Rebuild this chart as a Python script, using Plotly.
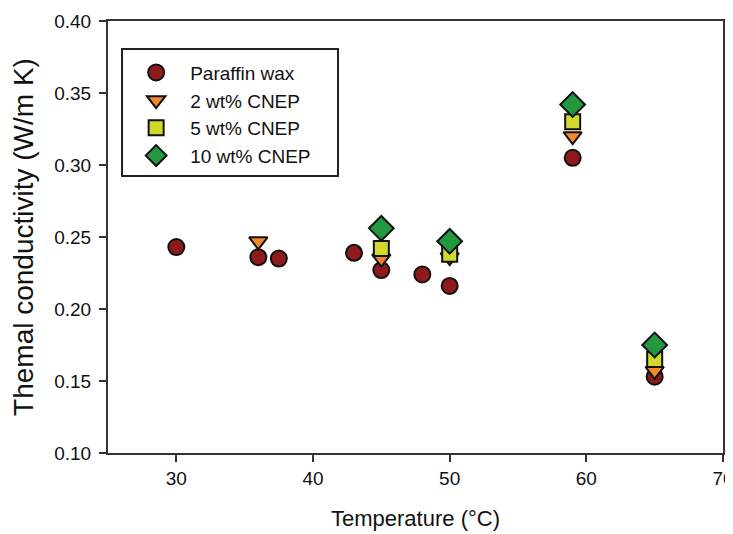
import plotly.graph_objects as go

series_names = ["Paraffin wax", "2 wt% CNEP", "5 wt% CNEP", "10 wt% CNEP"]

paraffin_T = [30, 36, 37.5, 43, 45, 48, 50, 59, 65]
paraffin_k = [0.243, 0.236, 0.235, 0.239, 0.227, 0.224, 0.216, 0.305, 0.153]

cnep2_T = [36, 45, 50, 59, 65]
cnep2_k = [0.247, 0.235, 0.236, 0.320, 0.157]

cnep5_T = [45, 50, 59, 65]
cnep5_k = [0.242, 0.238, 0.330, 0.165]

cnep10_T = [45, 50, 59, 65]
cnep10_k = [0.256, 0.247, 0.342, 0.175]

x_ticks = [30, 40, 50, 60, 70]
y_ticks = [0.10, 0.15, 0.20, 0.25, 0.30, 0.35, 0.40]

styles = [
    dict(symbol="circle", color="#8e1a1c", size=16),
    dict(symbol="triangle-down", color="#f5882b", size=16),
    dict(symbol="square", color="#d2d82c", size=15),
    dict(symbol="diamond", color="#22993f", size=19),
]
data = [(paraffin_T, paraffin_k), (cnep2_T, cnep2_k), (cnep5_T, cnep5_k), (cnep10_T, cnep10_k)]

fig = go.Figure()
for i, (name, (xs, ys), st) in enumerate(zip(series_names, data, styles)):
    fig.add_trace(go.Scatter(
        x=xs, y=ys, mode="markers", name=name, legendgroup=f"g{i}",
        marker=dict(symbol=st["symbol"], color=st["color"], size=st["size"],
                    line=dict(color="#111111", width=2)),
    ))

font_family = "Liberation Sans, Arial, sans-serif"
# page body has an 8px margin, so the figure is sized/offset to compensate
fig.update_layout(
    width=725, height=526,
    margin=dict(l=100, r=10, t=13, b=81),
    paper_bgcolor="white", plot_bgcolor="white",
    font=dict(family=font_family, color="#111111"),
    showlegend=True,
    legend=dict(
        x=0.023, y=0.9245, xanchor="left", yanchor="top",
        bgcolor="rgba(0,0,0,0)", borderwidth=0,
        font=dict(size=19, family=font_family),
        traceorder="grouped", tracegroupgap=0,
        itemwidth=58,
    ),
    shapes=[dict(
        type="rect", xref="paper", yref="paper",
        x0=0.0228, x1=0.374, y0=0.641, y1=0.935,
        line=dict(color="#222222", width=2), fillcolor="white", layer="below",
    )],
    xaxis=dict(
        range=[25, 70], tickvals=x_ticks, ticks="outside", ticklen=7, tickwidth=2,
        tickcolor="#333333", showline=True, linecolor="#333333", linewidth=2,
        mirror=True, showgrid=False, zeroline=False, automargin=False,
        tickfont=dict(size=19), ticklabeloverflow="allow",
        title=dict(text="Temperature (°C)", font=dict(size=22), standoff=23),
    ),
    yaxis=dict(
        range=[0.10, 0.40], tickvals=y_ticks, tickformat=".2f", ticks="outside", ticklen=7,
        tickwidth=2, tickcolor="#333333", showline=True, linecolor="#333333", linewidth=2,
        mirror=True, showgrid=False, zeroline=False, automargin=False,
        tickfont=dict(size=19), ticklabelstandoff=4,
        title=dict(text="Themal conductivity (W/m K)", font=dict(size=28), standoff=18),
    ),
)

fig.write_html("out.html")
